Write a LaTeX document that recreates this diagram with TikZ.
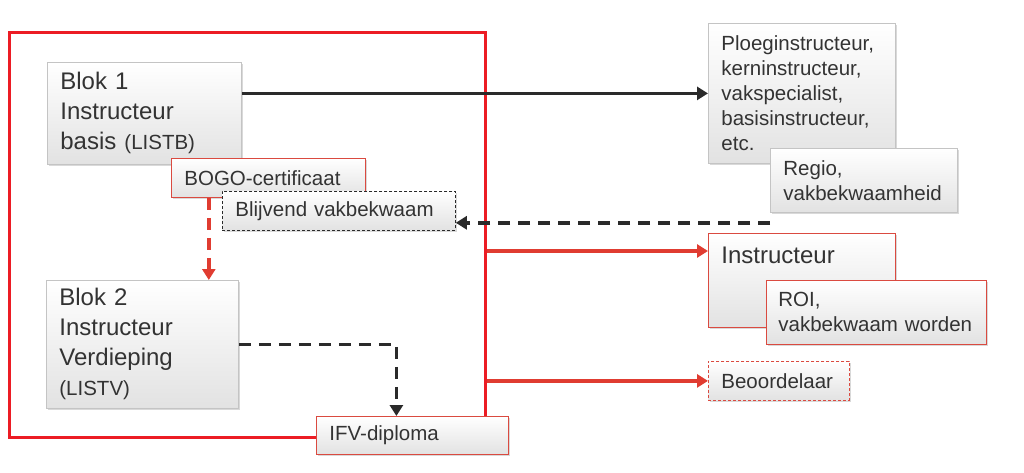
\documentclass[tikz,border=0pt]{standalone}
\usepackage{fontspec}
\setmainfont{Liberation Sans}
\usetikzlibrary{arrows.meta,shadows,calc}
\definecolor{framered}{HTML}{EC1C24}
\definecolor{linered}{HTML}{E03C31}
\definecolor{boxred}{HTML}{DA4A40}
\definecolor{boxgray}{HTML}{C4C4C4}
\definecolor{fillgray}{HTML}{E2E2E2}
\definecolor{linegray}{HTML}{2A2A2A}
\definecolor{txtgray}{HTML}{333333}
\newcommand{\bigtxt}{\fontsize{24pt}{30pt}\selectfont}
\newcommand{\smtxt}{\fontsize{20.5pt}{25pt}\selectfont}

\begin{document}
\begin{tikzpicture}[x=1pt,y=-1pt,
    box/.style={draw=boxgray,line width=0.8pt,top color=white,bottom color=fillgray,
      drop shadow={opacity=0.3,shadow xshift=1.5pt,shadow yshift=-2pt},
      anchor=north west,align=left,inner xsep=13pt,inner ysep=4pt,text=txtgray,font=\smtxt},
    redbox/.style={box,draw=boxred},
    dashbox/.style={box,draw=linegray,dash pattern=on 3pt off 2pt},
    blackarr/.style={draw=linegray,line width=3.5pt,-{Triangle[length=11pt,width=13pt]}},
    redarr/.style={draw=linered,line width=3.5pt,-{Triangle[length=11pt,width=13pt]}},
    longdash/.style={dash pattern=on 12pt off 8pt}]
  \useasboundingbox (0,0) rectangle (1024,473);
  % kader om de twee blokken
  \node[draw=framered,line width=3pt,anchor=north west,minimum width=476pt,minimum height=405pt,inner sep=0pt] (frame) at (8,31) {};
  % linkerkant
  \node[box,font=\bigtxt,minimum width=194pt,minimum height=102pt,text width=168pt] (b1) at (47,62) {Blok 1\\Instructeur\\basis {\smtxt (LISTB)}};
  \node[redbox,minimum width=194pt,minimum height=39pt,text width=168pt] (bogo) at (171,158) {BOGO-certificaat};
  \node[dashbox,minimum width=233pt,minimum height=39pt,text width=207pt] (blijv) at (222,191) {Blijvend vakbekwaam};
  \node[box,font=\bigtxt,minimum width=192pt,minimum height=128pt,text width=166pt] (b2) at (46,280) {Blok 2\\Instructeur\\Verdieping\\{\smtxt (LISTV)}};
  \node[redbox,minimum width=192pt,minimum height=38pt,text width=166pt] (ifv) at (316,416) {IFV-diploma};
  % rechterkant
  \node[box,minimum width=187pt,minimum height=140pt,text width=161pt] (ploeg) at (708,23) {Ploeginstructeur,\\kerninstructeur,\\vakspecialist,\\basisinstructeur,\\etc.};
  \node[box,minimum width=187pt,minimum height=64pt,text width=161pt] (regio) at (770,148) {Regio,\\vakbekwaamheid};
  \node[redbox,font=\bigtxt,minimum width=187pt,text width=161pt,text height=26pt,text depth=60pt] (instr) at (708,233) {Instructeur};
  \node[redbox,minimum width=220pt,minimum height=64pt,text width=196pt,inner xsep=12pt] (roi) at (766,280) {ROI,\\vakbekwaam worden};
  \node[redbox,dash pattern=on 3pt off 2pt,minimum width=141pt,minimum height=39pt,text width=115pt] (beo) at (708,361) {Beoordelaar};
  % pijlen
  \coordinate (regin) at ($(regio.south west)+(0,10)$);
  \coordinate (b2in) at ($(b2.north east)+(-30,0)$);
  \coordinate (ifvin) at ($(ifv.north)+(-16,0)$);
  \coordinate (instrin) at ($(instr.north west)+(0,18)$);
  \draw[blackarr] (b1.east |- ploeg.west) -- (ploeg.west);
  \draw[blackarr,longdash] (regin) -- (regin -| blijv.east);
  \draw[redarr,longdash] (bogo.south -| b2in) -- (b2in);
  \draw[blackarr,longdash] (b2.east) -| (ifvin);
  \draw[redarr] (frame.east |- instrin) -- (instrin);
  \draw[redarr] (frame.east |- beo.west) -- (beo.west);
\end{tikzpicture}
\end{document}
